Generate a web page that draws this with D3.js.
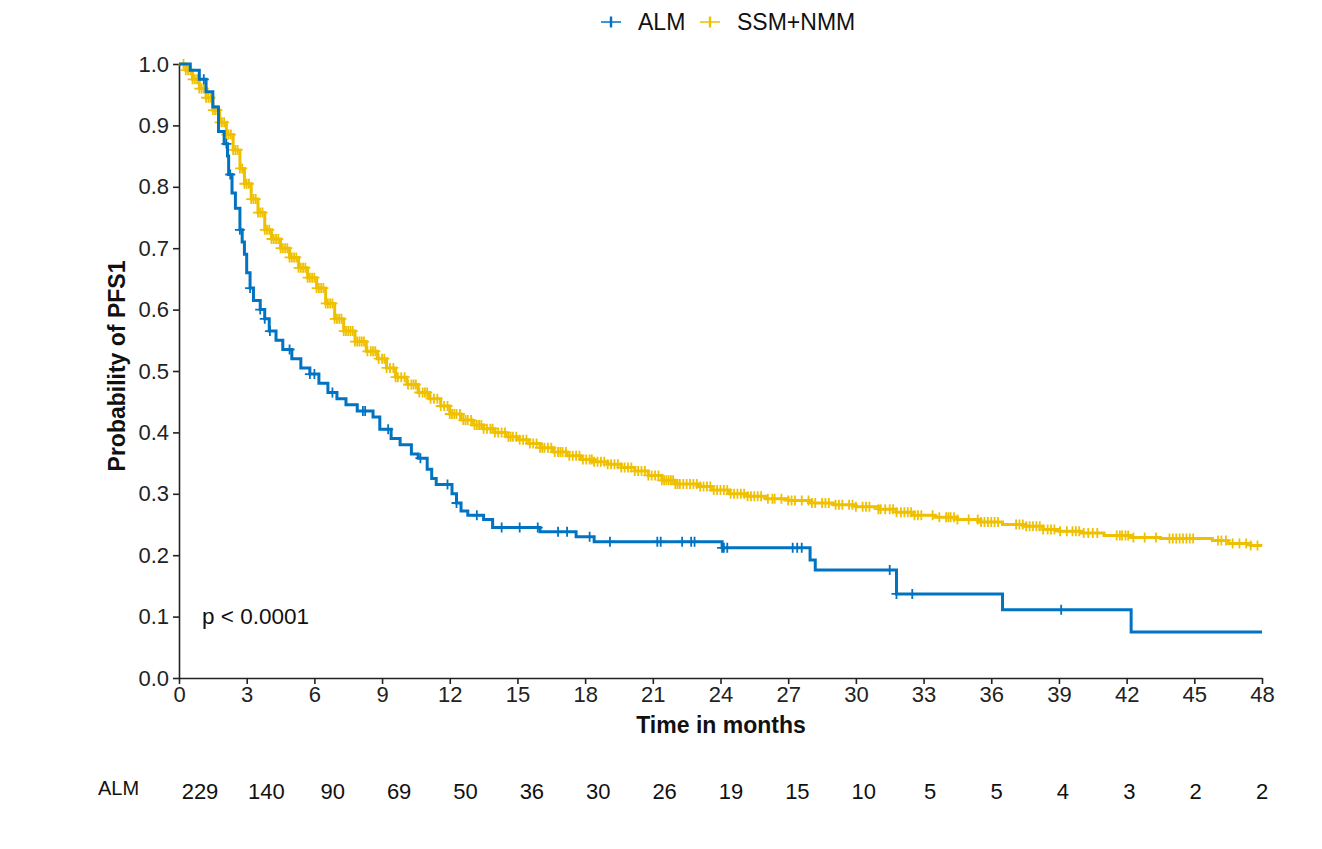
<!DOCTYPE html>
<html lang="en">
<head>
<meta charset="UTF-8">
<title>PFS1 by subtype</title>
<script src="https://d3js.org/d3.v7.min.js"></script>
<style>
    body { margin: 0; background: #fff; }
    svg { font-family: "Liberation Sans", Arial, sans-serif; }
    .axis path, .axis line { stroke: #222; stroke-width: 1.6px; }
    .axis text { font-size: 22px; fill: #222; }
</style>
</head>
<body>
<script>
    // group names + colours (ggsci jco)
    const groups = ["ALM", "SSM+NMM"];
    const colors = ["#0073C2", "#EFC000"];

    // ALM step curve: time (months) and survival after each drop
    const almTime = [0, 0.5, 0.9, 1.2, 1.5, 1.75, 2.0, 2.15, 2.2, 2.35, 2.5, 2.7, 2.8, 2.9, 3.0, 3.15, 3.3, 3.6, 3.8, 4.0,
        4.3, 4.6, 5.0, 5.4, 5.8, 6.2, 6.6, 7.0, 7.4, 7.9, 8.6, 8.9, 9.4, 9.8, 10.3, 10.6, 11.0, 11.2, 11.4, 12.1,
        12.3, 12.5, 12.8, 13.5, 13.9, 16.0, 17.6, 18.4, 24.07, 27.97, 28.2, 31.8, 36.5, 42.2, 48];
    const almSurv = [1.0, 0.99, 0.975, 0.955, 0.93, 0.89, 0.87, 0.85, 0.82, 0.79, 0.765, 0.73, 0.71, 0.69, 0.66, 0.635, 0.615, 0.6, 0.585, 0.565,
        0.55, 0.535, 0.52, 0.505, 0.495, 0.48, 0.465, 0.455, 0.445, 0.435, 0.425, 0.405, 0.39, 0.38, 0.365, 0.358, 0.34, 0.325, 0.315, 0.3,
        0.285, 0.272, 0.265, 0.258, 0.245, 0.238, 0.23, 0.222, 0.212, 0.192, 0.176, 0.137, 0.111, 0.075, 0.075];
    const almCensor = [1.1, 2.1, 2.27, 2.7, 3.15, 3.6, 3.8, 4.03, 4.9, 5.8, 6.0, 6.8, 8.15, 8.25, 9.27, 10.7, 11.9, 12.3, 13.2,
        14.3, 15.1, 15.9, 16.8, 17.2, 18.2, 19.1, 21.2, 21.35, 22.3, 22.7, 22.85, 24.07, 24.15, 24.3, 27.2, 27.4, 27.6,
        31.5, 31.8, 32.5, 39.1];

    // SSM+NMM step curve
    const ssmTime = [0, 0.3, 0.6, 0.9, 1.2, 1.5, 1.8, 2.1, 2.4, 2.7, 2.9, 3.2, 3.5, 3.8, 4.1, 4.5, 4.9, 5.3, 5.7, 6.1,
        6.5, 6.9, 7.3, 7.8, 8.3, 8.8, 9.2, 9.6, 10.1, 10.6, 11.1, 11.6, 12.0, 12.5, 13.0, 13.5, 14.0, 14.5, 15.0, 15.5,
        16.0, 16.6, 17.2, 17.8, 18.4, 19.0, 19.6, 20.2, 20.8, 21.4, 22.0, 23.0, 23.6, 24.4, 25.2, 26.0, 27.0, 28.0, 29.0, 30.0,
        31.0, 31.8, 32.5, 33.5, 34.5, 35.5, 36.5, 37.5, 38.3, 39.0, 40.0, 41.0, 42.2, 43.5, 45.8, 46.5, 47.5, 48];
    const ssmSurv = [1.0, 0.99, 0.975, 0.96, 0.945, 0.925, 0.905, 0.885, 0.86, 0.83, 0.805, 0.78, 0.758, 0.73, 0.715, 0.7, 0.685, 0.668, 0.652, 0.635,
        0.61, 0.585, 0.565, 0.548, 0.532, 0.52, 0.505, 0.49, 0.478, 0.465, 0.455, 0.443, 0.43, 0.42, 0.412, 0.406, 0.4, 0.393, 0.388, 0.382,
        0.375, 0.368, 0.362, 0.356, 0.352, 0.348, 0.343, 0.337, 0.33, 0.322, 0.316, 0.312, 0.306, 0.3, 0.296, 0.292, 0.289, 0.285, 0.282, 0.279,
        0.275, 0.27, 0.265, 0.262, 0.258, 0.254, 0.25, 0.247, 0.242, 0.239, 0.236, 0.232, 0.229, 0.227, 0.224, 0.219, 0.216, 0.216];
    const ssmCensor = [0.2, 0.3, 0.4, 0.5, 0.6, 0.7, 0.8, 0.9, 1.0, 1.1, 1.2, 1.3, 1.4, 1.5, 1.6, 1.7, 1.8, 1.9, 2.0, 2.1,
        2.2, 2.3, 2.4, 2.5, 2.6, 2.7, 2.8, 2.9, 3.0, 3.1, 3.2, 3.3, 3.4, 3.5, 3.6, 3.7, 3.8, 3.9, 4.0, 4.1,
        4.2, 4.3, 4.4, 4.5, 4.6, 4.7, 4.8, 4.9, 5.0, 5.1, 5.2, 5.3, 5.4, 5.5, 5.6, 5.7, 5.8, 5.9, 6.0, 6.1,
        6.2, 6.3, 6.4, 6.5, 6.6, 6.7, 6.8, 6.9, 7.0, 7.1, 7.2, 7.3, 7.4, 7.5, 7.6, 7.7, 7.8, 7.9, 8.0, 8.1,
        8.2, 8.35, 8.5, 8.6, 8.7, 8.85, 9.0, 9.1, 9.2, 9.35, 9.5, 9.6, 9.7, 9.85, 10.0, 10.15, 10.3, 10.4, 10.5, 10.65,
        10.8, 10.9, 11.0, 11.15, 11.3, 11.45, 11.6, 11.75, 11.9, 12.0, 12.1, 12.2, 12.3, 12.45, 12.6, 12.7, 12.8, 12.95, 13.1, 13.2,
        13.3, 13.4, 13.5, 13.65, 13.8, 13.9, 14.0, 14.15, 14.3, 14.45, 14.6, 14.7, 14.8, 14.95, 15.1, 15.25, 15.4, 15.55, 15.7, 15.85,
        16.0, 16.1, 16.2, 16.35, 16.5, 16.65, 16.8, 16.9, 17.0, 17.15, 17.3, 17.45, 17.6, 17.75, 17.9, 18.05, 18.2, 18.3, 18.4, 18.55,
        18.7, 18.85, 19.0, 19.15, 19.3, 19.45, 19.6, 19.75, 19.9, 20.05, 20.2, 20.35, 20.5, 20.65, 20.8, 20.95, 21.1, 21.25, 21.4, 21.5,
        21.6, 21.7, 21.8, 21.9, 22.0, 22.1, 22.2, 22.35, 22.5, 22.65, 22.8, 22.95, 23.1, 23.25, 23.4, 23.55, 23.7, 23.85, 24.0, 24.15,
        24.3, 24.45, 24.6, 24.75, 24.9, 25.05, 25.2, 25.35, 25.5, 25.65, 25.8, 26.1, 26.3, 26.4, 26.7, 27.0, 27.15, 27.3, 27.6, 27.9,
        28.05, 28.2, 28.5, 28.65, 28.8, 29.1, 29.25, 29.4, 29.7, 29.85, 30.0, 30.3, 30.45, 30.6, 31.0, 31.1, 31.3, 31.5, 31.65, 31.8,
        32.0, 32.15, 32.3, 32.45, 32.6, 32.75, 32.9, 33.4, 33.7, 34.0, 34.1, 34.2, 34.35, 34.5, 35.0, 35.4, 35.55, 35.7, 35.85, 36.0,
        36.15, 36.3, 37.1, 37.25, 37.4, 37.55, 37.7, 37.85, 38.0, 38.15, 38.3, 38.5, 38.65, 38.8, 39.05, 39.35, 39.6, 39.75, 39.9, 40.1,
        40.3, 40.5, 40.7, 41.56, 41.7, 41.8, 41.95, 42.07, 42.3, 42.8, 43.3, 43.9, 44.05, 44.2, 44.35, 44.5, 44.65, 44.8, 44.95, 46.05,
        46.2, 46.4, 46.7, 47.0, 47.3, 47.5, 47.8];

    // number at risk (ALM)
    const riskTimes = d3.range(0, 49, 3);
    const almRisk = [229, 140, 90, 69, 50, 36, 30, 26, 19, 15, 10, 5, 5, 4, 3, 2, 2];

    const xTicks = d3.range(0, 49, 3);
    const yTicks = d3.range(0, 1.01, 0.1);

    const width = 1322, height = 849;
    const svg = d3.select("body").append("svg")
        .attr("width", width)
        .attr("height", height);

    const x = d3.scaleLinear().domain([0, 48]).range([179, 1262]);
    const y = d3.scaleLinear().domain([0, 1]).range([678, 64]);

    /* axes */
    svg.append("g")
        .attr("class", "axis")
        .attr("transform", "translate(0,678)")
        .call(d3.axisBottom(x).tickValues(xTicks).tickSize(6).tickSizeOuter(0).tickPadding(1))
        .selectAll("text").attr("dy", "0.75em");

    svg.append("g")
        .attr("class", "axis")
        .attr("transform", "translate(179,0)")
        .call(d3.axisLeft(y).tickValues(yTicks).tickFormat(d3.format(".1f")).tickSize(6).tickSizeOuter(0).tickPadding(4));

    svg.append("text")
        .attr("x", 721).attr("y", 733)
        .attr("text-anchor", "middle")
        .attr("font-size", 23).attr("font-weight", "bold").attr("fill", "#111")
        .text("Time in months");

    svg.append("text")
        .attr("transform", "translate(125,366) rotate(-90)")
        .attr("text-anchor", "middle")
        .attr("font-size", 23).attr("font-weight", "bold").attr("fill", "#111")
        .text("Probability of PFS1");

    /* curves */
    const curves = [
        { time: almTime, surv: almSurv, censor: almCensor },
        { time: ssmTime, surv: ssmSurv, censor: ssmCensor }
    ];

    const line = d3.line()
        .x(d => x(d[0]))
        .y(d => y(d[1]))
        .curve(d3.curveStepAfter);

    const plus = (cx, cy, r) => `M${cx - r},${cy}H${cx + r}M${cx},${cy - r}V${cy + r}`;

    // draw yellow first so blue sits on top at the start
    [1, 0].forEach(i => {
        const c = curves[i];
        const pts = c.time.map((t, j) => [t, c.surv[j]]);
        svg.append("path")
            .datum(pts)
            .attr("fill", "none")
            .attr("stroke", colors[i])
            .attr("stroke-width", 3)
            .attr("d", line);

        const survAt = t => c.surv[d3.bisectRight(c.time, t) - 1];
        svg.append("path")
            .attr("fill", "none")
            .attr("stroke", colors[i])
            .attr("stroke-width", 1.8)
            .attr("d", c.censor.map(t => plus(x(t), y(survAt(t)), 5)).join(""));
    });

    svg.append("text")
        .attr("x", 202).attr("y", 624)
        .attr("font-size", 22.5).attr("fill", "#111")
        .text("p < 0.0001");

    /* legend */
    const legX = [600, 699];
    groups.forEach((g, i) => {
        const lg = svg.append("g").attr("transform", `translate(${legX[i]},22)`);
        lg.append("path")
            .attr("d", plus(11, 0, 10))
            .attr("stroke", colors[i])
            .attr("stroke-width", 2.4)
            .attr("transform", "scale(1,0.55)");
        lg.append("text")
            .attr("x", 38).attr("y", 8)
            .attr("font-size", 23).attr("fill", "#111")
            .text(g);
    });

    /* risk table */
    const rx = d3.scaleLinear().domain([0, 48]).range([200, 1262]);
    svg.append("text")
        .attr("x", 98).attr("y", 795)
        .attr("font-size", 20).attr("fill", "#111")
        .text("ALM");
    svg.selectAll(".risk")
        .data(almRisk)
        .enter()
        .append("text")
        .attr("class", "risk")
        .attr("x", (d, i) => rx(riskTimes[i]))
        .attr("y", 799)
        .attr("text-anchor", "middle")
        .attr("font-size", 22).attr("fill", "#111")
        .text(d => d);
</script>
</body>
</html>
